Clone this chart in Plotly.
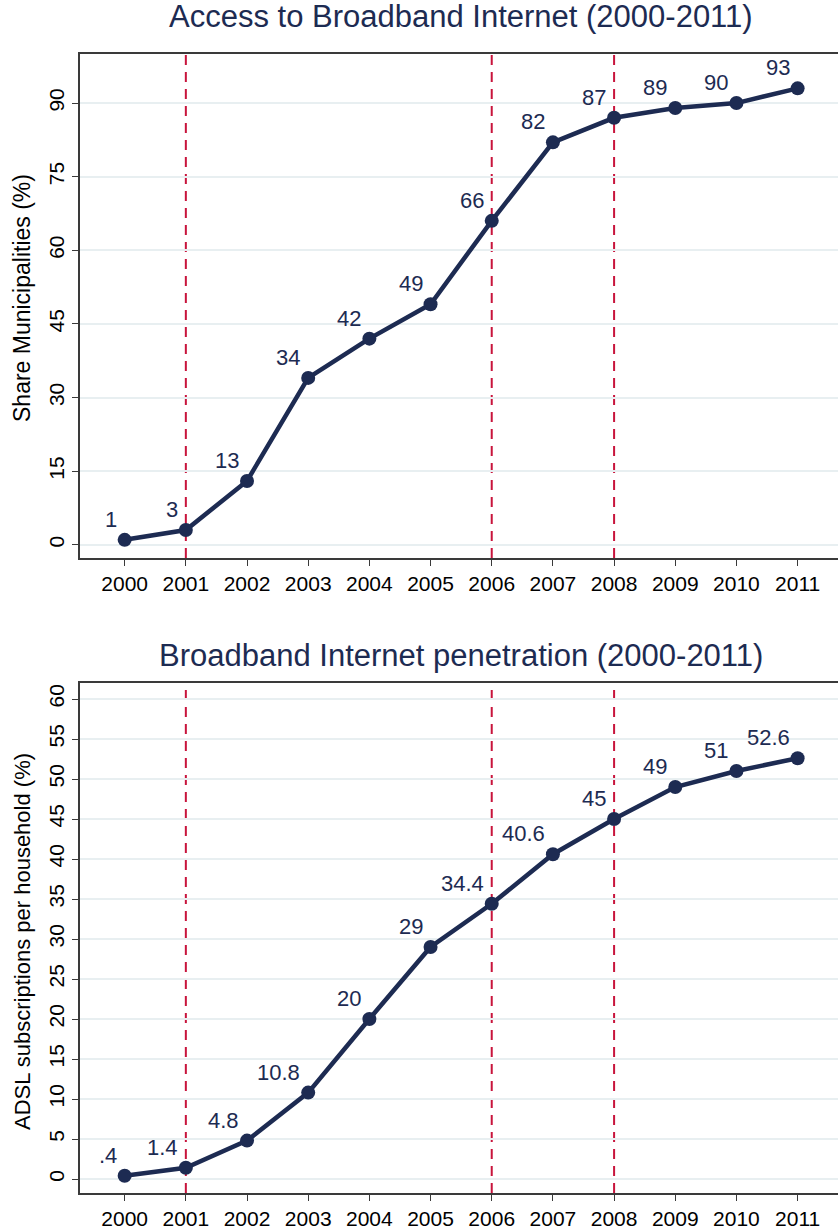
import plotly.graph_objects as go

years = list(range(2000, 2012))
access = [1, 3, 13, 34, 42, 49, 66, 82, 87, 89, 90, 93]
access_labels = ["1", "3", "13", "34", "42", "49", "66", "82", "87", "89", "90", "93"]
penetration = [0.4, 1.4, 4.8, 10.8, 20, 29, 34.4, 40.6, 45, 49, 51, 52.6]
penetration_labels = [".4", "1.4", "4.8", "10.8", "20", "29", "34.4", "40.6", "45", "49", "51", "52.6"]
event_years = [2001, 2006, 2008]
top_yticks = [0, 15, 30, 45, 60, 75, 90]
bot_yticks = list(range(0, 61, 5))

titles = ["Access to Broadband Internet (2000-2011)", "Broadband Internet penetration (2000-2011)"]
ytitles = ["Share Municipalities (%)", "ADSL subscriptions per household (%)"]

NAVY = "#1d2b52"
RED = "#c8143c"
GRID = "#e8eff1"
FONT = "Liberation Sans, Arial, sans-serif"
W, H = 838, 1230

fig = go.Figure()

def py(p):
    return 1 - p / H

def pxx(p):
    return p / W

x_dom = [pxx(80), 1.0]
top_dom = [py(558), py(54)]
bot_dom = [py(1193), py(683)]

fig.add_trace(go.Scatter(x=years, y=access, mode="lines+markers",
                         line=dict(color=NAVY, width=4.5),
                         marker=dict(color=NAVY, size=14),
                         xaxis="x", yaxis="y", showlegend=False, cliponaxis=False))
fig.add_trace(go.Scatter(x=years, y=penetration, mode="lines+markers",
                         line=dict(color=NAVY, width=4.5),
                         marker=dict(color=NAVY, size=14),
                         xaxis="x2", yaxis="y2", showlegend=False, cliponaxis=False))

axis_common = dict(showline=True, linecolor="#3a3a3a", linewidth=1.5,
                   ticks="outside", ticklen=6, tickcolor="#3a3a3a", tickwidth=1.2,
                   tickfont=dict(family=FONT, size=21, color="black"))

fig.update_layout(
    width=W, height=H,
    margin=dict(l=0, r=0, t=0, b=0),
    paper_bgcolor="white", plot_bgcolor="white",
    font=dict(family=FONT),
    xaxis=dict(domain=x_dom, anchor="y", range=[1999.27, 2011.66], tickvals=years,
               showgrid=False, zeroline=False, mirror=True, **axis_common),
    yaxis=dict(domain=top_dom, anchor="x", range=[-2.7, 100], tickvals=top_yticks,
               showgrid=True, gridcolor=GRID, gridwidth=1.5, zeroline=False,
               tickangle=-90, **axis_common),
    xaxis2=dict(domain=x_dom, anchor="y2", range=[1999.27, 2011.66], tickvals=years,
                showgrid=False, zeroline=False, mirror=True, **axis_common),
    yaxis2=dict(domain=bot_dom, anchor="x2", range=[-1.75, 62], tickvals=bot_yticks,
                showgrid=True, gridcolor=GRID, gridwidth=1.5, zeroline=False,
                tickangle=-90, **axis_common),
)

shapes = []
for xr, yr in [("x", "y"), ("x2", "y2")]:
    for ey in event_years:
        shapes.append(dict(type="line", xref=xr, yref=yr + " domain", x0=ey, x1=ey, y0=0, y1=1,
                           line=dict(color=RED, width=2, dash="10px,7px"), layer="below"))
fig.update_layout(shapes=shapes)

ann = []
for xr, yr, vals, labs in [("x", "y", access, access_labels), ("x2", "y2", penetration, penetration_labels)]:
    for yv, v, l in zip(years, vals, labs):
        ann.append(dict(x=yv, y=v, xref=xr, yref=yr, text=l, showarrow=False,
                        xanchor="right", yanchor="bottom", xshift=-6, yshift=6,
                        font=dict(family=FONT, size=22, color=NAVY)))

ann.append(dict(x=pxx(461), y=py(17), xref="paper", yref="paper", text=titles[0], showarrow=False,
                xanchor="center", yanchor="middle", font=dict(family=FONT, size=31, color=NAVY)))
ann.append(dict(x=pxx(461), y=py(655), xref="paper", yref="paper", text=titles[1], showarrow=False,
                xanchor="center", yanchor="middle", font=dict(family=FONT, size=31, color=NAVY)))
ann.append(dict(x=pxx(22), y=py(298), xref="paper", yref="paper", text=ytitles[0],
                showarrow=False, textangle=-90, xanchor="center", yanchor="middle",
                font=dict(family=FONT, size=23, color="black")))
ann.append(dict(x=pxx(22), y=py(942), xref="paper", yref="paper", text=ytitles[1],
                showarrow=False, textangle=-90, xanchor="center", yanchor="middle",
                font=dict(family=FONT, size=22, color="black")))
fig.update_layout(annotations=ann)

fig.write_html("out.html", config={"displayModeBar": False},
               post_script="document.body.style.margin='0px';")
